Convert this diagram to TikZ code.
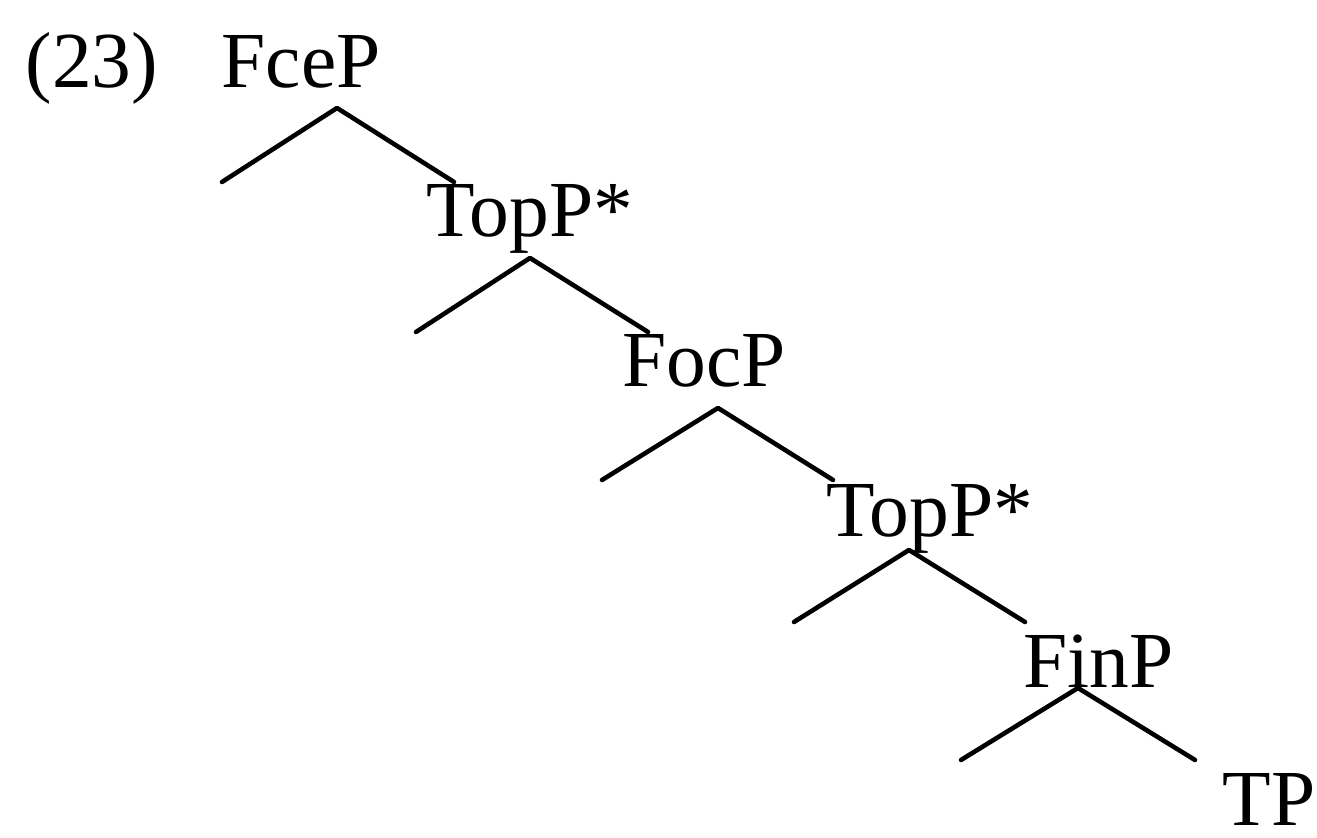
\documentclass[tikz,border=0pt]{standalone}
\usepackage{fontspec}
\setmainfont{Liberation Serif}
\usepackage{xcolor}
\definecolor{treeink}{HTML}{000000}

\begin{document}
\begin{tikzpicture}[
  x=1cm,
  y=1cm,
  every node/.style={font=\fontsize{22.6}{26}\selectfont, treeink,
                     inner sep=0pt, anchor=base west},
  branch/.style={treeink, line width=1.3pt, line cap=round, line join=round}
]
  \useasboundingbox (0,0) rectangle (13.17,8.38);

  % ---- example number and the category labels -------------------------
  \node (exnum) at (0.25,7.50) {(23)};
  \node (fce)   at (2.21,7.50) {FceP};
  \node (topa)  at (4.26,6.01) {TopP*};
  \node (foc)   at (6.22,4.51) {FocP};
  \node (topb)  at (8.26,3.01) {TopP*};
  \node (fin)   at (10.23,1.50) {FinP};
  \node (tp)    at (12.22,0.12) {TP};

  % ---- branchings: left end / apex / right end -------------------------
  \foreach \i/\lx/\ly/\ax/\ay/\rx/\ry in {
      1/2.22/6.56/3.37/7.30/4.54/6.56,
      2/4.16/5.06/5.30/5.80/6.48/5.06,
      3/6.02/3.58/7.18/4.30/8.33/3.58,
      4/7.94/2.16/9.09/2.88/10.25/2.16,
      5/9.61/0.78/10.78/1.50/11.95/0.78}
  {
    \coordinate (left\i)  at (\lx,\ly);
    \coordinate (apex\i)  at (\ax,\ay);
    \coordinate (right\i) at (\rx,\ry);
    \draw[branch] (left\i) -- (apex\i) -- (right\i);
  }
\end{tikzpicture}
\end{document}
